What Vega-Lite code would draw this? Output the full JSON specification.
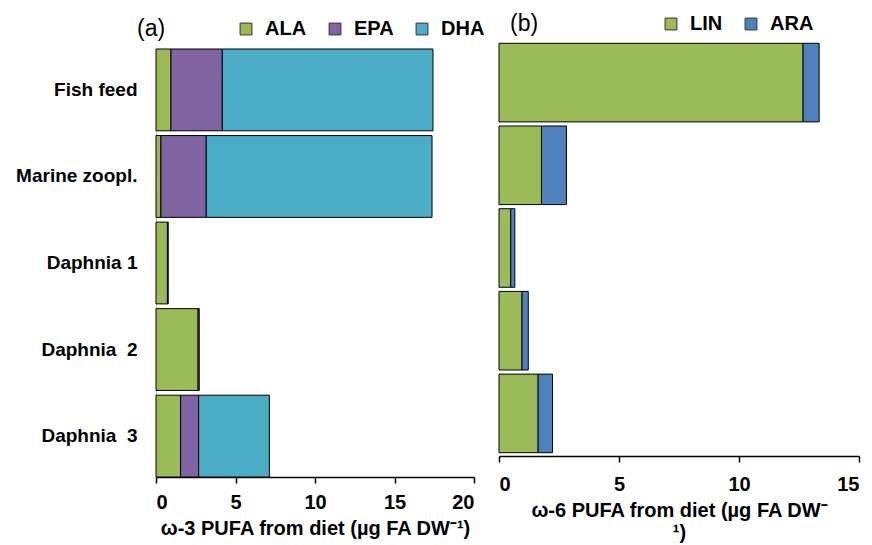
{
  "$schema": "https://vega.github.io/schema/vega-lite/v6.json",
  "background": "white",
  "padding": {"left": 15, "top": 14, "right": 2, "bottom": 1},
  "spacing": 25,
  "bounds": "flush",
  "config": {
    "view": {"stroke": null},
    "font": "Liberation Sans",
    "axis": {"grid": false}
  },
  "datasets": {
    "n3": [
      {"diet": "Fish feed", "fa": "ALA", "k": 1, "value": 0.94},
      {"diet": "Fish feed", "fa": "EPA", "k": 2, "value": 3.23},
      {"diet": "Fish feed", "fa": "DHA", "k": 3, "value": 13.25},
      {"diet": "Marine zoopl.", "fa": "ALA", "k": 1, "value": 0.31},
      {"diet": "Marine zoopl.", "fa": "EPA", "k": 2, "value": 2.85},
      {"diet": "Marine zoopl.", "fa": "DHA", "k": 3, "value": 14.2},
      {"diet": "Daphnia 1", "fa": "ALA", "k": 1, "value": 0.72},
      {"diet": "Daphnia 1", "fa": "EPA", "k": 2, "value": 0.05},
      {"diet": "Daphnia  2", "fa": "ALA", "k": 1, "value": 2.65},
      {"diet": "Daphnia  2", "fa": "EPA", "k": 2, "value": 0.07},
      {"diet": "Daphnia  3", "fa": "ALA", "k": 1, "value": 1.55},
      {"diet": "Daphnia  3", "fa": "EPA", "k": 2, "value": 1.13},
      {"diet": "Daphnia  3", "fa": "DHA", "k": 3, "value": 4.45}
    ],
    "n6": [
      {"diet": "Fish feed", "fa": "LIN", "k": 1, "value": 12.67},
      {"diet": "Fish feed", "fa": "ARA", "k": 2, "value": 0.67},
      {"diet": "Marine zoopl.", "fa": "LIN", "k": 1, "value": 1.77},
      {"diet": "Marine zoopl.", "fa": "ARA", "k": 2, "value": 1.04},
      {"diet": "Daphnia 1", "fa": "LIN", "k": 1, "value": 0.49},
      {"diet": "Daphnia 1", "fa": "ARA", "k": 2, "value": 0.17},
      {"diet": "Daphnia  2", "fa": "LIN", "k": 1, "value": 0.96},
      {"diet": "Daphnia  2", "fa": "ARA", "k": 2, "value": 0.26},
      {"diet": "Daphnia  3", "fa": "LIN", "k": 1, "value": 1.63},
      {"diet": "Daphnia  3", "fa": "ARA", "k": 2, "value": 0.6}
    ]
  },
  "resolve": {"scale": {"color": "independent", "x": "independent", "y": "independent"}},
  "hconcat": [
    {
      "width": 318,
      "height": 437,
      "data": {"name": "n3"},
      "mark": {"type": "bar", "stroke": "black", "strokeWidth": 1},
      "encoding": {
        "y": {
          "field": "diet", "type": "nominal",
          "sort": ["Fish feed", "Marine zoopl.", "Daphnia 1", "Daphnia  2", "Daphnia  3"],
          "scale": {"range": [9, 437], "paddingInner": 0.055, "paddingOuter": 0},
          "axis": {"title": null, "labelFontWeight": "bold", "labelFontSize": 19, "labelColor": "black", "ticks": false, "domainColor": "#bbbbbb", "labelPadding": 19,
            "labelExpr": "replace(datum.label, '  ', '\u00a0\u00a0')"}
        },
        "x": {
          "field": "value", "type": "quantitative", "stack": "zero",
          "scale": {"domain": [0, 20], "nice": false},
          "axis": {"values": [0, 5, 10, 15, 20], "title": "ω-3 PUFA from diet (µg FA DW⁻¹)", "titleFontSize": 20, "titleFontWeight": "bold", "titleColor": "black", "titlePadding": 6, "labelFontSize": 20, "labelFontWeight": "bold", "labelColor": "black", "domainColor": "black", "domainWidth": 1.5, "tickColor": "black", "tickWidth": 1.5, "tickSize": 6, "labelPadding": 9}
        },
        "color": {
          "field": "fa", "type": "nominal",
          "scale": {"domain": ["ALA", "EPA", "DHA"], "range": ["#9BBB59", "#8064A2", "#4BACC6"]},
          "legend": {"orient": "none", "legendX": -19, "legendY": -21, "direction": "horizontal", "title": "(a)", "titleOrient": "left", "titleFontSize": 23, "titleFontWeight": "normal", "titleColor": "black", "titlePadding": 70, "titleBaseline": "middle", "symbolType": "square", "symbolSize": 140, "symbolStrokeColor": "#333333", "symbolStrokeWidth": 1, "labelFontSize": 20, "labelFontWeight": "bold", "labelColor": "black", "columnPadding": 18, "labelOffset": 9}
        },
        "order": {"field": "k", "type": "quantitative"}
      }
    },
    {
      "width": 360,
      "height": 416,
      "data": {"name": "n6"},
      "mark": {"type": "bar", "stroke": "black", "strokeWidth": 1},
      "encoding": {
        "y": {
          "field": "diet", "type": "nominal",
          "sort": ["Fish feed", "Marine zoopl.", "Daphnia 1", "Daphnia  2", "Daphnia  3"],
          "scale": {"paddingInner": 0.05, "paddingOuter": 0.04},
          "axis": null
        },
        "x": {
          "field": "value", "type": "quantitative", "stack": "zero",
          "scale": {"domain": [0, 15], "nice": false},
          "axis": {"values": [0, 5, 10, 15], "title": ["ω-6 PUFA from diet (µg FA DW⁻", "¹)"], "titleFontSize": 20, "titleFontWeight": "bold", "titleColor": "black", "titlePadding": 6, "titleLineHeight": 22, "labelFontSize": 20, "labelFontWeight": "bold", "labelColor": "black", "domainColor": "black", "domainWidth": 1.5, "tickColor": "black", "tickWidth": 1.5, "tickSize": 6, "labelPadding": 12}
        },
        "color": {
          "field": "fa", "type": "nominal",
          "scale": {"domain": ["LIN", "ARA"], "range": ["#9BBB59", "#4F81BD"]},
          "legend": {"orient": "none", "legendX": 11, "legendY": -26, "direction": "horizontal", "title": "(b)", "titleOrient": "left", "titleFontSize": 23, "titleFontWeight": "normal", "titleColor": "black", "titlePadding": 122, "titleBaseline": "middle", "symbolType": "square", "symbolSize": 140, "symbolStrokeColor": "#333333", "symbolStrokeWidth": 1, "labelFontSize": 20, "labelFontWeight": "bold", "labelColor": "black", "columnPadding": 18, "labelOffset": 9}
        },
        "order": {"field": "k", "type": "quantitative"}
      }
    }
  ]
}
